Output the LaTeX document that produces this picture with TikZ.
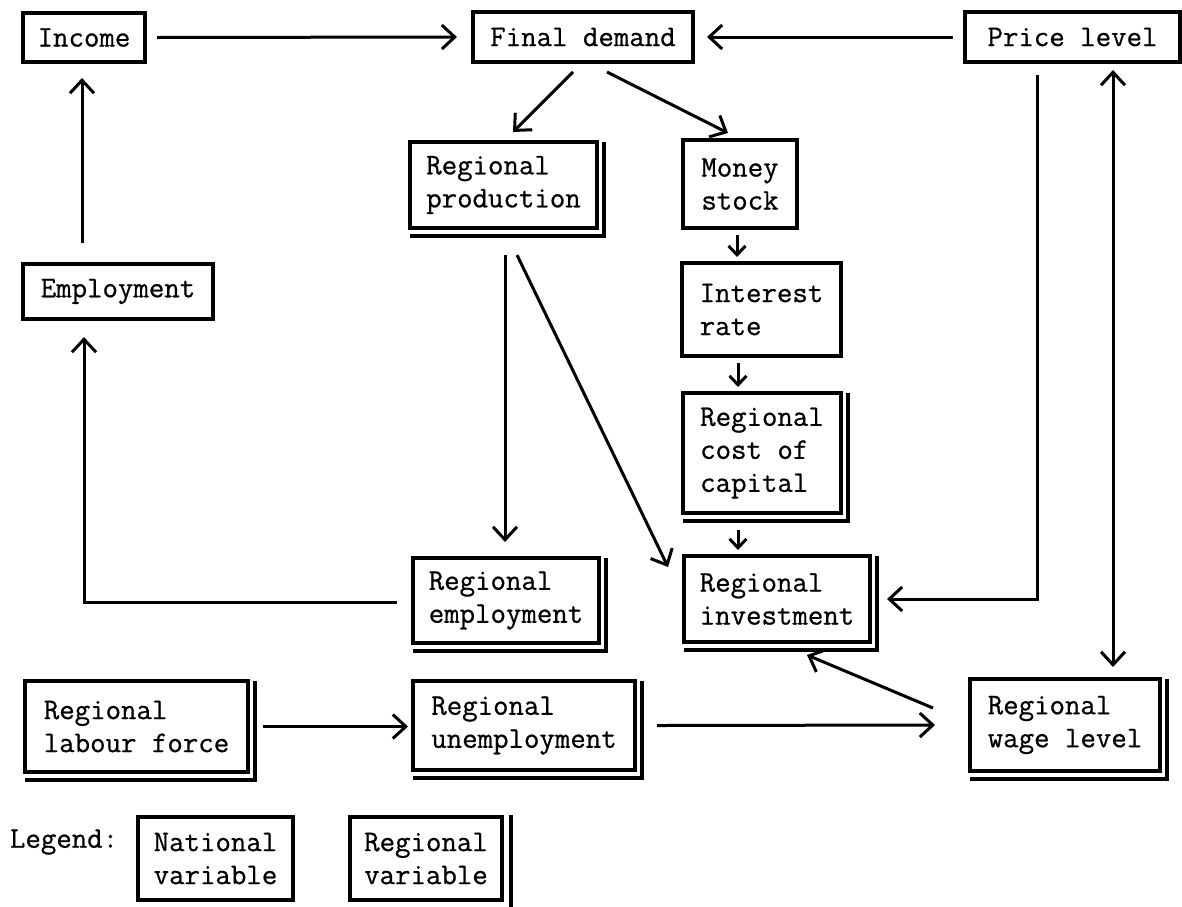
\documentclass[tikz,border=0pt]{standalone}
\usepackage{fontspec}
\newfontfamily\typewriter{Latin Modern Mono}[FakeBold=0.7]
\usetikzlibrary{arrows.meta,calc}
\begin{document}
\begin{tikzpicture}[x=1pt,y=-1pt,
  every node/.style={inner sep=0pt, outer sep=0pt},
  tw/.style={font=\fontsize{30}{33}\selectfont\typewriter},
  natbox/.style={tw, draw, line width=3.3pt, align=left},
  regbox/.style={natbox},
  shadowline/.style={line width=3.1pt},
  conn/.style={line width=3pt, -{Straight Barb[length=13pt,width=24pt]}},
  bothconn/.style={line width=3pt, {Straight Barb[length=13pt,width=24pt]}-{Straight Barb[length=13pt,width=24pt]}},
  shortconn/.style={line width=3pt, -{Straight Barb[length=9pt,width=17pt]}}
]
\useasboundingbox (0,0) rectangle (1182,906);

% national variables
\node[natbox, minimum width=122pt, minimum height=49pt] (inc) at (84,37.5) {Income};
\node[natbox, minimum width=220pt, minimum height=50pt] (fd) at (583,37) {Final demand};
\node[natbox, minimum width=215pt, minimum height=50pt] (pl) at (1072.5,37) {Price level};
\node[natbox, minimum width=114pt, minimum height=88pt] (ms) at (740,184) {Money\\stock};
\node[natbox, minimum width=159pt, minimum height=93pt] (ir) at (761.5,309.5) {Interest\\rate};
\node[natbox, minimum width=190pt, minimum height=55pt] (emp) at (118,291.5) {Employment};

% regional variables
\node[regbox, minimum width=187pt, minimum height=86pt] (rp) at (503.5,185) {Regional\\production};
\node[regbox, minimum width=158pt, minimum height=120pt] (rcc) at (762,453) {Regional\\cost of\\capital};
\node[regbox, minimum width=186pt, minimum height=86pt] (ri) at (777,599) {Regional\\investment};
\node[regbox, minimum width=186pt, minimum height=85pt] (re) at (506,600.5) {Regional\\employment};
\node[regbox, minimum width=223pt, minimum height=91pt] (rlf) at (136.5,726.5) {Regional\\labour force};
\node[regbox, minimum width=222pt, minimum height=89pt] (ru) at (524,725.5) {Regional\\unemployment};
\node[regbox, minimum width=190pt, minimum height=92pt] (rw) at (1065,725) {Regional\\wage level};

% legend
\node[tw, anchor=west] (leg) at (10,842) {Legend:};
\node[natbox, minimum width=155pt, minimum height=83pt] (ln) at (215.5,858.5) {National\\variable};
\node[regbox, minimum width=152pt, minimum height=83pt] (lr) at (426,858.5) {Regional\\variable};

% second border line of the regional boxes
\foreach \n in {rp,rcc,ri,re,rlf,ru,rw}
  \draw[shadowline] ($(\n.north east)+(7,0)$) -- ($(\n.south east)+(7,8)$) -- ($(\n.south west)+(0,8)$);
% the legend box runs into the bottom edge
\draw[shadowline] ($(lr.north east)+(9,-2)$) -- ($(lr.south east)+(9,8)$);

% connectors
\draw[conn] ($(inc.east)+(12,0)$) -- ($(fd.west)+(-16,0)$);
\draw[conn] ($(pl.west)+(-12,0)$) -- ($(fd.east)+(14,0)$);
\draw[conn] ($(fd.south)+(-10,10)$) -- ($(rp.north)+(9.5,-10)$);
\draw[conn] ($(fd.south)+(24,10)$) -- ($(ms.north)+(-12,-7)$);
\draw[shortconn] ($(ms.south)+(-3,7)$) -- ($(ir.north)+(-24.5,-6)$);
\draw[shortconn] ($(ir.south)+(-23.5,7)$) -- ($(rcc.north)+(-24,-6)$);
\draw[shortconn] ($(rcc.south)+(-24,17)$) -- ($(ri.north)+(-39,-6)$);
\draw[conn] ($(rp.south)+(1.5,27)$) -- ($(re.north)+(-1,-16)$);
\draw[conn] ($(rp.south)+(13.5,27)$) -- ($(ri.north west)+(-16,11)$);
\draw[conn] ($(pl.south)+(-35.5,13)$) |- ($(ri.east)+(17,0)$);
\draw[bothconn] ($(pl.south)+(40.5,8)$) -- ($(rw.north)+(48,-12)$);
\draw[conn] ($(rw.west)+(-37,-17)$) -- ($(ri.south)+(30,13)$);
\draw[conn] ($(ru.east)+(22,0)$) -- ($(rw.west)+(-35,0)$);
\draw[conn] ($(rlf.east)+(15,0)$) -- ($(ru.west)+(-5,1)$);
\draw[conn] ($(re.west)+(-16,2)$) -| ($(emp.south)+(-34,18)$);
\draw[conn] ($(emp.north)+(-36,-21)$) -- ($(inc.south)+(-2,16)$);
\end{tikzpicture}
\end{document}
